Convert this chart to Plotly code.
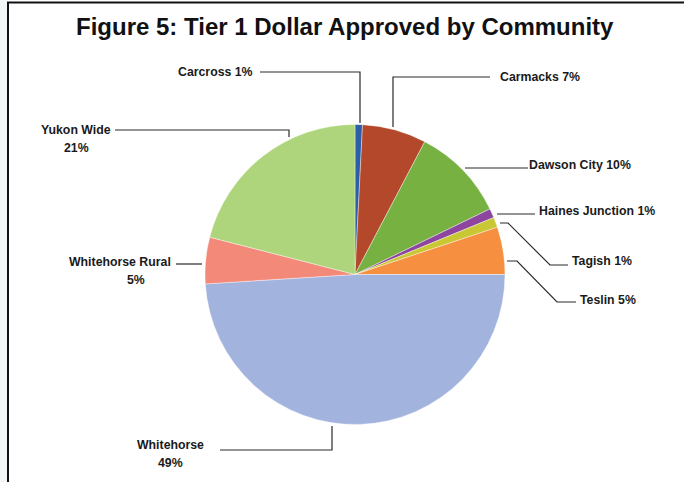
import plotly.graph_objects as go

# ---- data ----
communities = ["Carcross", "Carmacks", "Dawson City", "Haines Junction", "Tagish",
               "Teslin", "Whitehorse", "Whitehorse Rural", "Yukon Wide"]
shares = [0.8, 6.9, 10.1, 1.0, 1.1, 5.1, 49.0, 5.0, 21.0]
colors = ["#2b5fa9", "#b4482a", "#76b142", "#8d45a0", "#c9c834",
          "#f68f3f", "#a2b4de", "#f38a79", "#aed57b"]
title_text = "Figure 5: Tier 1 Dollar Approved by Community"

W, H = 684, 482
CX, CY, R = 355, 274.5, 150


def px(x):
    return x / W


def py(y):
    return 1 - y / H


pct = [f"{round(v)}%" for v in shares]

fig = go.Figure()
fig.add_trace(go.Pie(
    labels=communities, values=shares, sort=False, direction="clockwise",
    rotation=0, textinfo="none", showlegend=False,
    marker=dict(colors=colors, line=dict(color="white", width=0.4)),
    domain=dict(x=[px(CX - R), px(CX + R)], y=[py(CY + R), py(CY - R)]),
))

# label layout: (lines of text with positions), leader path (pixels)
label_layout = {
    "Carcross": dict(text=[("{n} {p}", 255, 72, "right")],
                     path=[(260, 72), (360, 72), (360, 123)]),
    "Carmacks": dict(text=[("{n} {p}", 498, 77, "left")],
                     path=[(490, 77), (393, 77), (393, 127)]),
    "Dawson City": dict(text=[("{n} {p}", 527, 165, "left")],
                        path=[(465, 168), (528, 168)]),
    "Haines Junction": dict(text=[("{n} {p}", 537, 211, "left")],
                            path=[(497, 214), (535, 214)]),
    "Tagish": dict(text=[("{n} {p}", 570, 261, "left")],
                   path=[(500, 223), (508, 223), (550, 265), (568, 265)]),
    "Teslin": dict(text=[("{n} {p}", 578, 300, "left")],
                   path=[(507, 261), (517, 261), (557, 302), (576, 302)]),
    "Whitehorse": dict(text=[("{n}", 170, 445, "center"), ("{p}", 170, 463, "center")],
                       path=[(220, 450), (332, 450), (332, 426)]),
    "Whitehorse Rural": dict(text=[("{n}", 120, 262, "center"), ("{p}", 136, 280, "center")],
                             path=[(176, 264), (202, 264)]),
    "Yukon Wide": dict(text=[("{n}", 76, 130, "center"), ("{p}", 76, 148, "center")],
                       path=[(115, 130), (289, 130), (289, 137)]),
}

annotations = []
shapes = []

# left grey strip and frame
shapes.append(dict(type="rect", xref="paper", yref="paper", x0=0, x1=px(7.5), y0=0, y1=1,
                   fillcolor="#f2f6f6", line=dict(width=0), layer="below"))
shapes.append(dict(type="path", xref="paper", yref="paper",
                   path=f"M {px(8)} 0 L {px(8)} {py(2.5)} L 1.01 {py(2.5)}",
                   line=dict(color="#111111", width=2)))

for name, p in zip(communities, pct):
    spec = label_layout[name]
    for tmpl, x, y, anchor in spec["text"]:
        annotations.append(dict(
            text="<b>" + tmpl.format(n=name, p=p) + "</b>",
            x=px(x), y=py(y), xref="paper", yref="paper",
            xanchor=anchor, yanchor="middle", showarrow=False,
            font=dict(family="Liberation Sans", size=12.3, color="#1a1a1a"),
        ))
    pts = spec["path"]
    d = "M " + " L ".join(f"{px(a)} {py(b)}" for a, b in pts)
    shapes.append(dict(type="path", xref="paper", yref="paper", path=d,
                       line=dict(color="#2a2a2a", width=1.2)))

annotations.append(dict(
    text="<b>" + title_text + "</b>", x=px(345), y=py(26), xref="paper", yref="paper",
    xanchor="center", yanchor="middle", showarrow=False,
    font=dict(family="Liberation Sans", size=24, color="#111111"),
))

fig.update_layout(
    width=W, height=H, margin=dict(l=0, r=0, t=0, b=0),
    paper_bgcolor="white", plot_bgcolor="white",
    annotations=annotations, shapes=shapes,
)

fig.write_html(
    "out.html",
    config={"displayModeBar": False},
    post_script="document.body.style.margin='0';document.body.style.overflow='hidden';",
)
